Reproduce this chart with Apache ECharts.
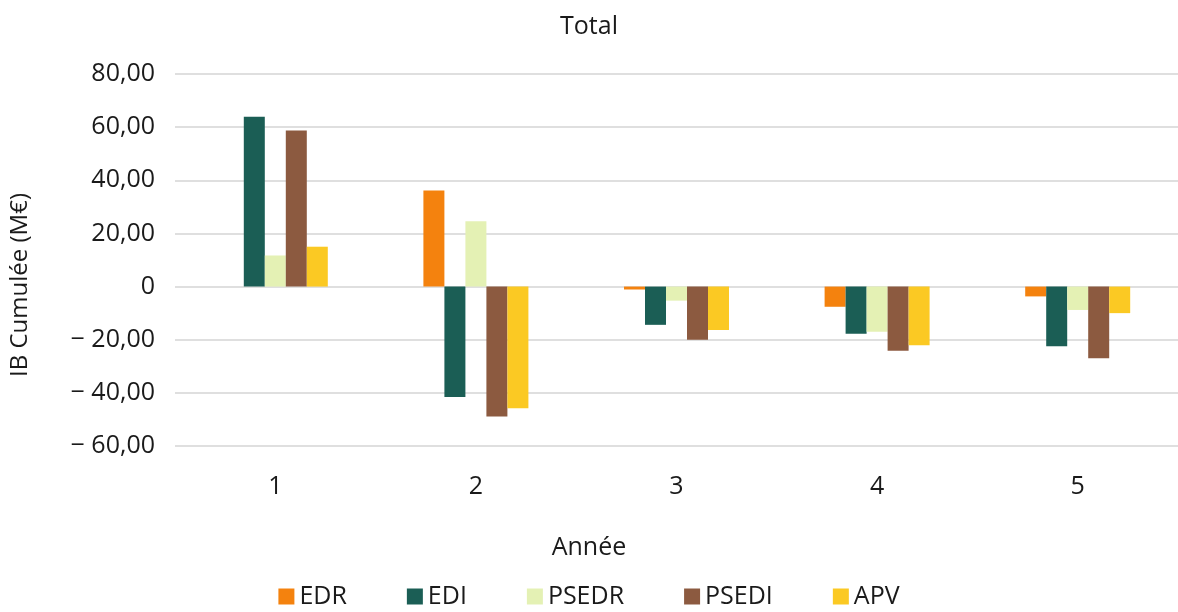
<!DOCTYPE html>
<html>
<head>
<meta charset="utf-8">
<script src="https://cdn.jsdelivr.net/npm/echarts@6/dist/echarts.min.js"></script>
<style>
  html, body { margin: 0; padding: 0; background: #fff; }
  #chart { width: 1178px; height: 612px; }
</style>
</head>
<body>
<div id="chart"></div>
<script>
const years = ['1', '2', '3', '4', '5'];
const edr = [0, 36.2, -1.1, -7.6, -3.7];
const edi = [63.9, -41.6, -14.4, -17.8, -22.5];
const psedr = [11.7, 24.6, -5.3, -17.0, -8.8];
const psedi = [58.7, -48.9, -20.0, -24.2, -27.0];
const apv = [15.0, -45.8, -16.3, -22.1, -10.0];
const yTicks = { min: -60, max: 80, interval: 20 };

const font = 'Open Sans';

function fmt(v) {
    if (v === 0) return '0';
    const s = Math.abs(v).toFixed(2).replace('.', ',');
    return v < 0 ? '\u2212 ' + s : s;
}

function bar(name, data, color) {
    return {
        name: name,
        type: 'bar',
        data: data,
        barWidth: 21,
        barGap: '0%',
        itemStyle: { color: color }
    };
}

const option = {
    backgroundColor: '#fff',
    animation: false,
    textStyle: { fontFamily: font },
    title: [
        {
            text: 'Total',
            left: 'center',
            top: 9,
            textStyle: { fontFamily: font, fontSize: 25, fontWeight: 'normal', color: '#1a1a1a' }
        },
        {
            text: 'Année',
            left: 'center',
            top: 530,
            textStyle: { fontFamily: font, fontSize: 25, fontWeight: 'normal', color: '#1a1a1a' }
        }
    ],
    legend: {
        bottom: -2,
        left: 'center',
        itemWidth: 16,
        itemHeight: 16,
        itemGap: 60,
        icon: 'rect',
        data: ['EDR', 'EDI', 'PSEDR', 'PSEDI', 'APV'],
        textStyle: { fontFamily: font, fontSize: 25, color: '#1a1a1a' }
    },
    grid: {
        left: 175,
        right: 0,
        top: 74,
        bottom: 166
    },
    xAxis: {
        type: 'category',
        data: years,
        axisLine: { show: false, onZero: false },
        axisTick: { show: false },
        axisLabel: { fontFamily: font, fontSize: 25, color: '#1a1a1a', margin: 28 }
    },
    yAxis: {
        type: 'value',
        min: yTicks.min,
        max: yTicks.max,
        interval: yTicks.interval,
        name: 'IB Cumulée (M€)',
        nameLocation: 'middle',
        nameRotate: 90,
        nameGap: 143,
        nameTextStyle: { fontFamily: font, fontSize: 24, color: '#1a1a1a', padding: [0, 50, 0, 0] },
        axisLine: { show: false },
        axisTick: { show: false },
        axisLabel: { fontFamily: font, fontSize: 25, color: '#1a1a1a', margin: 20, formatter: fmt },
        splitLine: { lineStyle: { color: '#d4d4d4', width: 1.5 } }
    },
    series: [
        bar('EDR', edr, '#f4820e'),
        bar('EDI', edi, '#1b5e55'),
        bar('PSEDR', psedr, '#e4f1b4'),
        bar('PSEDI', psedi, '#8c5a40'),
        bar('APV', apv, '#fbc923')
    ]
};

const chart = echarts.init(document.getElementById('chart'));
chart.setOption(option);
</script>
</body>
</html>
